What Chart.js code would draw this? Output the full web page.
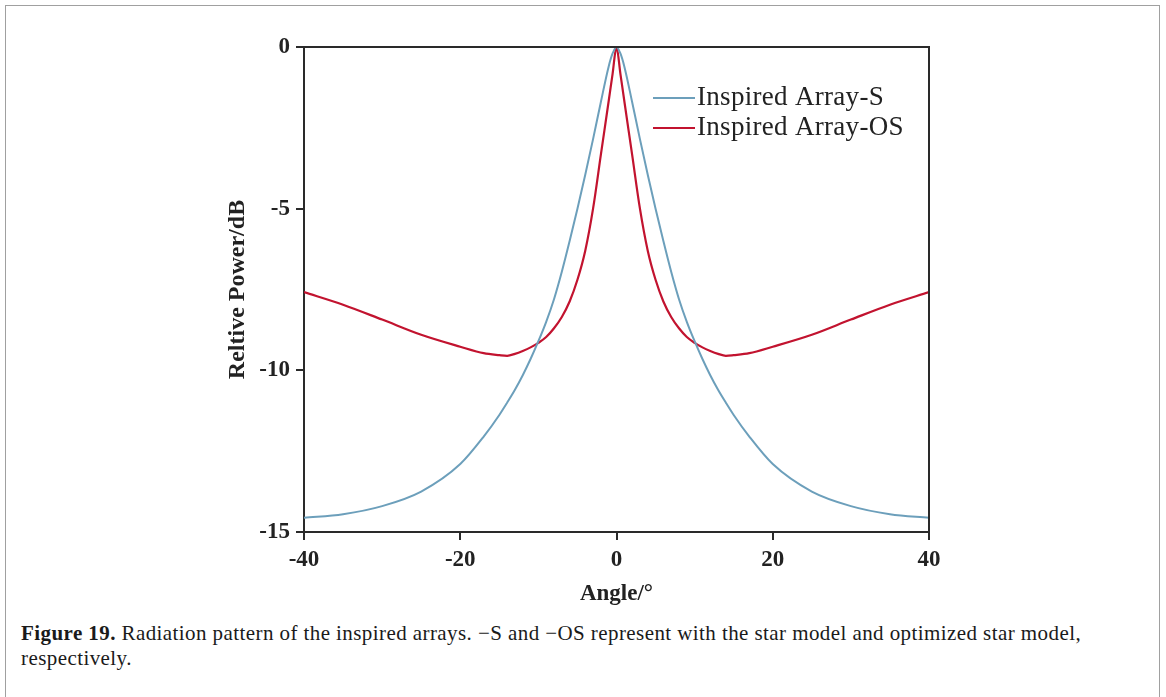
<!DOCTYPE html>
<html>
<head>
<meta charset="utf-8">
<script src="https://cdn.jsdelivr.net/npm/chart.js@4/dist/chart.umd.min.js"></script>
<style>
  html, body { margin: 0; padding: 0; background: #fff; }
  body { width: 1166px; height: 697px; position: relative; overflow: hidden; }
  #frame { position: absolute; left: 5px; top: 5px; width: 1155px; height: 720px; border: 1.5px solid #a0a0a0; box-sizing: border-box; }
  #wrap { position: absolute; left: 0; top: 0; width: 1166px; height: 620px; }
  #caption { position: absolute; left: 21px; top: 621px; font-family: "Liberation Serif", serif; font-size: 21px; letter-spacing: 0.42px; line-height: 25px; color: #1a1a1a; white-space: nowrap; }
  #caption b { font-weight: bold; }
</style>
</head>
<body>
<div id="frame"></div>
<div id="wrap"><canvas id="chart"></canvas></div>
<div id="caption"><b>Figure 19.</b> Radiation pattern of the inspired arrays. −S and −OS represent with the star model and optimized star model,<br>respectively.</div>
<script>
// angle grid (degrees)
const angles = [-40, -35, -30, -25, -20, -17, -15, -14, -13, -12, -11, -10, -9, -8, -7, -6, -5, -4, -3, -2, -1, -0.5, 0,
                0.5, 1, 2, 3, 4, 5, 6, 7, 8, 9, 10, 11, 12, 13, 14, 15, 17, 20, 25, 30, 35, 40];

// Inspired Array-S (dB)
const sPower = [-14.56, -14.45, -14.2, -13.75, -12.9, -12.05, -11.38, -11.0, -10.6, -10.15, -9.65, -9.1, -8.5, -7.8, -6.95, -6.0, -5.0, -3.95, -2.85, -1.7, -0.6, -0.2, 0,
                -0.2, -0.6, -1.7, -2.85, -3.95, -5.0, -6.0, -6.95, -7.8, -8.5, -9.1, -9.65, -10.15, -10.6, -11.0, -11.38, -12.05, -12.9, -13.75, -14.2, -14.45, -14.56];

// Inspired Array-OS (dB)
const osPower = [-7.58, -7.97, -8.43, -8.9, -9.27, -9.47, -9.53, -9.55, -9.49, -9.4, -9.29, -9.15, -8.97, -8.7, -8.35, -7.87, -7.2, -6.3, -5.0, -3.33, -1.67, -0.83, 0,
                 -0.83, -1.67, -3.33, -5.0, -6.3, -7.2, -7.87, -8.35, -8.7, -8.97, -9.15, -9.29, -9.4, -9.49, -9.55, -9.53, -9.47, -9.27, -8.9, -8.43, -7.97, -7.58];

const xTicks = [-40, -20, 0, 20, 40];
const yTicks = [0, -5, -10, -15];

const seriesLabels = ['Inspired Array-S', 'Inspired Array-OS'];
const seriesColors = ['#6c9fbb', '#c2132f'];

const toPoints = vals => angles.map((a, i) => ({ x: a, y: vals[i] }));

const tickFont = { family: '"Liberation Serif", serif', size: 23, weight: 'bold' };

// box round the plot + legend inside it
const framePlugin = {
    id: 'frame',
    afterDraw(chart) {
        const { ctx, chartArea: a } = chart;
        ctx.save();
        ctx.strokeStyle = '#2a2a2a';
        ctx.lineWidth = 2;
        ctx.beginPath();
        ctx.moveTo(a.left, a.top);
        ctx.lineTo(a.right, a.top);
        ctx.lineTo(a.right, a.bottom);
        ctx.stroke();

        // legend
        ctx.font = '27px "Liberation Serif", serif';
        ctx.letterSpacing = '0.3px';
        ctx.textBaseline = 'middle';
        chart.data.datasets.forEach((ds, i) => {
            const y = a.top + 51 + i * 30;
            const x0 = a.left + 349;
            ctx.strokeStyle = ds.borderColor;
            ctx.lineWidth = 2;
            ctx.beginPath();
            ctx.moveTo(x0, y);
            ctx.lineTo(x0 + 42, y);
            ctx.stroke();
            ctx.fillStyle = '#222';
            ctx.fillText(ds.label, x0 + 44, y);
        });
        ctx.restore();
    }
};

new Chart(document.getElementById('chart'), {
    type: 'scatter',
    data: {
        datasets: [
            {
                label: seriesLabels[0],
                data: toPoints(sPower),
                borderColor: seriesColors[0],
                borderWidth: 2,
                showLine: true,
                pointRadius: 0,
                cubicInterpolationMode: 'monotone'
            },
            {
                label: seriesLabels[1],
                data: toPoints(osPower),
                borderColor: seriesColors[1],
                borderWidth: 2.2,
                showLine: true,
                pointRadius: 0,
                cubicInterpolationMode: 'monotone'
            }
        ]
    },
    options: {
        responsive: true,
        maintainAspectRatio: false,
        animation: false,
        layout: { padding: { left: 204, right: 237, top: 47, bottom: 0 } },
        plugins: {
            legend: { display: false },
            tooltip: { enabled: false }
        },
        scales: {
            x: {
                type: 'linear',
                min: -40, max: 40,
                afterFit: s => { s.height = 88; },
                afterBuildTicks: s => { s.ticks = xTicks.map(v => ({ value: v })); },
                grid: { display: true, drawOnChartArea: false, drawTicks: true, tickLength: 8, color: '#2a2a2a', lineWidth: 2 },
                border: { display: true, color: '#2a2a2a', width: 2 },
                ticks: { font: tickFont, color: '#222', padding: 6, maxRotation: 0 },
                title: { display: true, text: 'Angle/°', font: tickFont, color: '#222', padding: { top: 0, bottom: 12 } }
            },
            y: {
                type: 'linear',
                min: -15, max: 0,
                afterFit: s => { s.width = 100; },
                afterBuildTicks: s => { s.ticks = yTicks.map(v => ({ value: v })); },
                grid: { display: true, drawOnChartArea: false, drawTicks: true, tickLength: 8, color: '#2a2a2a', lineWidth: 2 },
                border: { display: true, color: '#2a2a2a', width: 2 },
                ticks: { font: tickFont, color: '#222', padding: 6 },
                title: { display: true, text: 'Reltive Power/dB', font: { family: '"Liberation Serif", serif', size: 24, weight: 'bold' }, color: '#222', padding: { top: 19, bottom: 0 } }
            }
        }
    },
    plugins: [framePlugin]
});
</script>
</body>
</html>
